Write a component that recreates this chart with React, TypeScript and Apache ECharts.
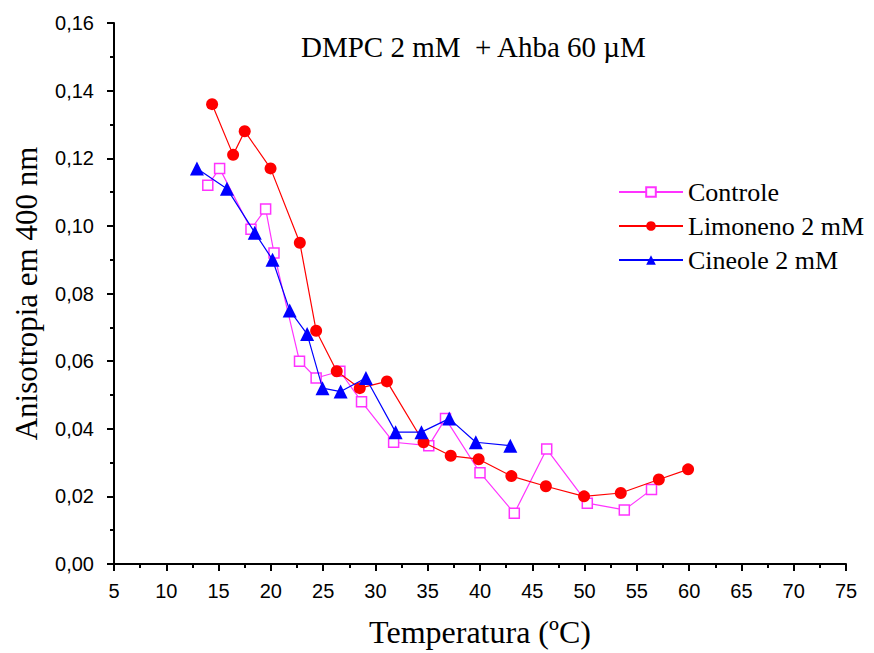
import React, { useEffect, useRef } from "react";
import * as echarts from "echarts";

const controleX = [13.97, 15.1, 18.1, 19.5, 20.3, 22.74, 24.33, 26.6, 28.67, 31.74, 35.1, 36.7, 40.0, 43.28, 46.38, 50.26, 53.8, 56.4];
const controleY = [0.112, 0.117, 0.099, 0.105, 0.092, 0.060, 0.055, 0.057, 0.048, 0.036, 0.035, 0.043, 0.027, 0.015, 0.034, 0.018, 0.016, 0.022];

const limonenoX = [14.38, 16.39, 17.5, 19.97, 22.77, 24.33, 26.3, 28.5, 31.1, 34.6, 37.2, 39.87, 43.0, 46.3, 49.95, 53.46, 57.1, 59.9];
const limonenoY = [0.136, 0.121, 0.128, 0.117, 0.095, 0.069, 0.057, 0.052, 0.054, 0.036, 0.032, 0.031, 0.026, 0.023, 0.020, 0.021, 0.025, 0.028];

const cineoleX = [12.93, 15.8, 18.46, 20.16, 21.8, 23.47, 24.94, 26.67, 29.09, 31.93, 34.4, 37.06, 39.6, 42.9];
const cineoleY = [0.117, 0.111, 0.098, 0.090, 0.075, 0.068, 0.052, 0.051, 0.055, 0.039, 0.039, 0.043, 0.036, 0.035];

const seriesNames = ["Controle", "Limoneno 2 mM", "Cineole 2 mM"];
const titleText = "DMPC 2 mM  + Ahba 60 µM";
const xName = "Temperatura (ºC)";
const yName = "Anisotropia em 400 nm";

const zip = (xs: number[], ys: number[]) => xs.map((x, i) => [x, ys[i]]);

export default function App() {
  const ref = useRef<HTMLDivElement>(null);
  useEffect(() => {
    if (!ref.current) return;
    const chart = echarts.init(ref.current, null, { renderer: "svg" });
    const serif = "'Liberation Serif', 'DejaVu Serif', serif";
    const sans = "'Liberation Sans', Arial, sans-serif";
    chart.setOption({
      animation: false,
      backgroundColor: "#ffffff",
      title: {
        text: titleText,
        left: 296,
        top: 27,
        textStyle: { fontFamily: serif, fontSize: 29, fontWeight: "normal", color: "#000" },
      },
      legend: {
        orient: "vertical",
        left: 613,
        top: 174,
        itemGap: 8,
        itemWidth: 64,
        itemHeight: 12,
        data: seriesNames,
        textStyle: { fontFamily: serif, fontSize: 26, color: "#000" },
      },
      grid: { left: 114, top: 23, right: 28, bottom: 88, containLabel: false },
      xAxis: {
        type: "value",
        min: 5,
        max: 75,
        interval: 5,
        name: xName,
        nameLocation: "middle",
        nameGap: 52,
        nameTextStyle: { fontFamily: serif, fontSize: 32, color: "#000" },
        axisLine: { show: true, lineStyle: { color: "#000", width: 2 } },
        axisTick: { show: true, inside: false, length: 7, lineStyle: { color: "#000", width: 2 } },
        minorTick: { show: true, splitNumber: 2, length: 4, lineStyle: { color: "#000", width: 2 } },
        axisLabel: { margin: 17, fontFamily: sans, fontSize: 20, color: "#000" },
        splitLine: { show: false },
      },
      yAxis: {
        type: "value",
        min: 0,
        max: 0.16,
        interval: 0.02,
        name: yName,
        nameLocation: "middle",
        nameGap: 72,
        nameTextStyle: { fontFamily: serif, fontSize: 31, color: "#000" },
        axisLine: { show: true, lineStyle: { color: "#000", width: 2 } },
        axisTick: { show: true, inside: false, length: 7, lineStyle: { color: "#000", width: 2 } },
        minorTick: { show: true, splitNumber: 2, length: 4, lineStyle: { color: "#000", width: 2 } },
        axisLabel: {
          margin: 20,
          fontFamily: sans,
          fontSize: 20,
          color: "#000",
          formatter: (v: number) => v.toFixed(2).replace(".", ","),
        },
        splitLine: { show: false },
      },
      series: [
        {
          name: seriesNames[0],
          type: "line",
          data: zip(controleX, controleY),
          symbol: "rect",
          symbolSize: 10,
          itemStyle: { color: "#ffffff", borderColor: "#ff33ff", borderWidth: 1.5 },
          lineStyle: { color: "#ff33ff", width: 1.2 },
          z: 2,
        },
        {
          name: seriesNames[1],
          type: "line",
          data: zip(limonenoX, limonenoY),
          symbol: "circle",
          symbolSize: 12,
          itemStyle: { color: "#ff0000" },
          lineStyle: { color: "#ff0000", width: 1.2 },
          z: 3,
        },
        {
          name: seriesNames[2],
          type: "line",
          data: zip(cineoleX, cineoleY),
          symbol: "triangle",
          symbolSize: 14,
          itemStyle: { color: "#0000ff" },
          lineStyle: { color: "#0000ff", width: 1.2 },
          z: 4,
        },
      ],
    });
    return () => chart.dispose();
  }, []);
  return <div ref={ref} style={{ width: 874, height: 653, position: "absolute", left: 0, top: 0 }} />;
}
